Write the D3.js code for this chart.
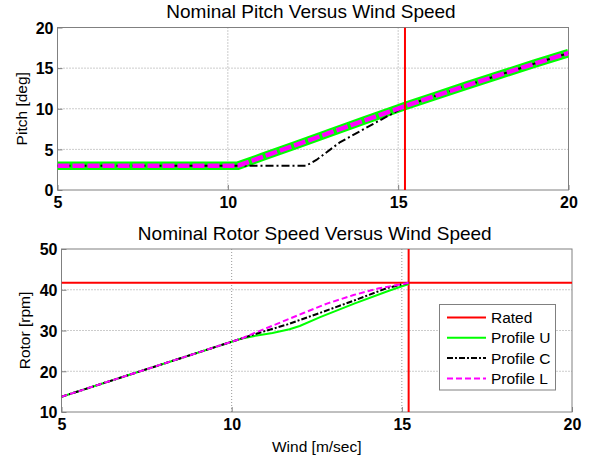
<!DOCTYPE html>
<html>
<head>
<meta charset="utf-8">
<script src="https://cdn.jsdelivr.net/npm/d3@7"></script>
<style>
  html, body { margin: 0; padding: 0; background: #fff; }
  svg { display: block; font-family: "Liberation Sans", Arial, sans-serif; }
</style>
</head>
<body>
<svg id="chart" width="592" height="460"></svg>
<script>
// Wind speed break points (m/s)
const pitchWind   = [5, 10.3, 11, 12, 13, 14, 15, 15.2, 16, 17, 18, 19, 20];
// Nominal pitch (deg), profiles U and L share the schedule
const pitchU      = [3, 3, 4.05, 5.55, 7.05, 8.55, 10.03, 10.33, 11.45, 12.85, 14.2, 15.55, 16.85];
const pitchL      = [3, 3, 4.05, 5.55, 7.05, 8.55, 10.03, 10.33, 11.45, 12.85, 14.2, 15.55, 16.85];
// Profile C holds minimum pitch longer
const pitchCWind  = [5, 12.3, 12.6, 13.3, 14.3, 15.0, 15.2, 16, 17, 18, 19, 20];
const pitchC      = [3, 3, 3.7, 5.9, 8.2, 9.8, 10.33, 11.45, 12.85, 14.2, 15.55, 16.85];

// Rotor speed (rpm) below rated
const rotorWindU  = [5, 10, 10.3, 10.64, 11.2, 11.7, 12.0, 12.6, 13.6, 14.6, 15.2];
const rotorU      = [13.75, 27.25, 28.05, 28.6, 29.4, 30.3, 31.1, 33.3, 36.6, 39.7, 41.4];
const rotorWindC  = [5, 10, 10.3, 10.64, 11.64, 12.62, 13.58, 14.56, 15.2];
const rotorC      = [13.75, 27.25, 28.05, 29.0, 31.5, 34.4, 37.3, 40.4, 41.7];
const rotorWindL  = [5, 10, 10.3, 10.64, 11, 11.5, 12.11, 12.8, 13.58, 14.3, 14.95, 15.2];
const rotorL      = [13.75, 27.25, 28.05, 29.3, 30.5, 32.2, 34.3, 36.6, 38.7, 40.3, 41.3, 41.7];

// Rated operating point
const ratedWind  = 15.2;
const ratedRotor = 41.7;

// Tick labels
const windTicks  = [5, 10, 15, 20];
const pitchTicks = [0, 5, 10, 15, 20];
const rotorTicks = [10, 20, 30, 40, 50];

const legendLabels = ["Rated", "Profile U", "Profile C", "Profile L"];

const RED = "#ff0000", GREEN = "#00ff00", BLACK = "#000000", MAGENTA = "#ff00ff";
const FRAME = "#808080", GRID = "#999999";

const svg = d3.select("#chart");

function zip(xs, ys) { return xs.map((x, i) => [x, ys[i]]); }

function panel(box, yDomain, yTicks, title, yLabel) {
  const x = d3.scaleLinear().domain([5, 20]).range([box.left, box.right]);
  const y = d3.scaleLinear().domain(yDomain).range([box.bottom, box.top]);
  const g = svg.append("g");

  // dotted grid
  g.append("g").selectAll("line").data(windTicks.slice(1, -1)).join("line")
    .attr("x1", d => x(d)).attr("x2", d => x(d))
    .attr("y1", box.top).attr("y2", box.bottom)
    .attr("stroke", GRID).attr("stroke-width", 1).attr("stroke-dasharray", "1,2");
  g.append("g").selectAll("line").data(yTicks.slice(1, -1)).join("line")
    .attr("x1", box.left).attr("x2", box.right)
    .attr("y1", d => y(d)).attr("y2", d => y(d))
    .attr("stroke", GRID).attr("stroke-width", 1).attr("stroke-dasharray", "1,2");

  // axes (inward ticks, bold labels)
  const xAxis = g.append("g").attr("transform", `translate(0,${box.bottom})`)
    .call(d3.axisBottom(x).tickValues(windTicks).tickSizeInner(-5).tickSizeOuter(0).tickPadding(7));
  const yAxis = g.append("g").attr("transform", `translate(${box.left},0)`)
    .call(d3.axisLeft(y).tickValues(yTicks).tickSizeInner(-5).tickSizeOuter(0).tickPadding(4));
  [xAxis, yAxis].forEach(a => {
    a.select(".domain").remove();
    a.selectAll(".tick line").attr("stroke", FRAME);
    a.selectAll(".tick text").attr("fill", "#000").attr("font-size", 16)
      .attr("font-weight", "bold").attr("font-family", "Liberation Sans, Arial, sans-serif");
  });
  xAxis.selectAll(".tick text").attr("dy", "0.71em");
  yAxis.selectAll(".tick text").attr("dy", "0.36em");

  // frame
  g.append("rect").attr("x", box.left).attr("y", box.top)
    .attr("width", box.right - box.left).attr("height", box.bottom - box.top)
    .attr("fill", "none").attr("stroke", FRAME).attr("stroke-width", 1);

  // titles
  g.append("text").attr("x", (box.left + box.right) / 2 - 2).attr("y", box.top - 9.5)
    .attr("text-anchor", "middle").attr("font-size", 19).attr("fill", "#000").text(title);
  g.append("text").attr("transform", `translate(${box.yLabelX},${(box.top + box.bottom) / 2}) rotate(-90)`)
    .attr("text-anchor", "middle").attr("font-size", 15.5).attr("fill", "#000").text(yLabel);

  const clip = "clip" + Math.round(box.top);
  svg.append("clipPath").attr("id", clip).append("rect")
    .attr("x", box.left).attr("y", box.top)
    .attr("width", box.right - box.left).attr("height", box.bottom - box.top);
  const plot = svg.append("g").attr("clip-path", `url(#${clip})`);
  const line = d3.line().x(d => x(d[0])).y(d => y(d[1]));
  return { x, y, plot, line, g };
}

// ---- Pitch panel ----
const pitchPanel = panel({ left: 57.5, right: 568.5, top: 27.5, bottom: 190, yLabelX: 27 },
  [0, 20], pitchTicks, "Nominal Pitch Versus Wind Speed", "Pitch [deg]");

pitchPanel.plot.append("path").datum(zip(pitchWind, pitchU)).attr("d", pitchPanel.line)
  .attr("fill", "none").attr("stroke", GREEN).attr("stroke-width", 8.5).attr("stroke-linejoin", "round");
pitchPanel.plot.append("path").datum(zip(pitchCWind, pitchC)).attr("d", pitchPanel.line)
  .attr("fill", "none").attr("stroke", BLACK).attr("stroke-width", 2).attr("stroke-dasharray", "8,3,2,3");
pitchPanel.plot.append("path").datum(zip(pitchWind, pitchL)).attr("d", pitchPanel.line)
  .attr("fill", "none").attr("stroke", MAGENTA).attr("stroke-width", 4.5).attr("stroke-dasharray", "12,3");
pitchPanel.plot.append("line")
  .attr("x1", pitchPanel.x(ratedWind)).attr("x2", pitchPanel.x(ratedWind))
  .attr("y1", pitchPanel.y(0)).attr("y2", pitchPanel.y(20))
  .attr("stroke", RED).attr("stroke-width", 2);

// ---- Rotor panel ----
const rotorPanel = panel({ left: 61.5, right: 572, top: 249, bottom: 412, yLabelX: 30 },
  [10, 50], rotorTicks, "Nominal Rotor Speed Versus Wind Speed", "Rotor [rpm]");

rotorPanel.g.append("text").attr("x", (61.5 + 572) / 2).attr("y", 452)
  .attr("text-anchor", "middle").attr("font-size", 15.5).attr("fill", "#000").text("Wind [m/sec]");

rotorPanel.plot.append("line")
  .attr("x1", rotorPanel.x(5)).attr("x2", rotorPanel.x(20))
  .attr("y1", rotorPanel.y(ratedRotor)).attr("y2", rotorPanel.y(ratedRotor))
  .attr("stroke", RED).attr("stroke-width", 2);
rotorPanel.plot.append("line")
  .attr("x1", rotorPanel.x(ratedWind)).attr("x2", rotorPanel.x(ratedWind))
  .attr("y1", rotorPanel.y(10)).attr("y2", rotorPanel.y(50))
  .attr("stroke", RED).attr("stroke-width", 2);

const rotorSeries = [
  { xs: rotorWindU, ys: rotorU, color: GREEN, dash: null, w: 2 },
  { xs: rotorWindC, ys: rotorC, color: BLACK, dash: "6,2,2,2", w: 2 },
  { xs: rotorWindL, ys: rotorL, color: MAGENTA, dash: "6,3", w: 2 }
];
rotorSeries.forEach(s => {
  rotorPanel.plot.append("path").datum(zip(s.xs, s.ys)).attr("d", rotorPanel.line)
    .attr("fill", "none").attr("stroke", s.color).attr("stroke-width", s.w)
    .attr("stroke-dasharray", s.dash);
});

// legend
const legStyles = [
  { color: RED, dash: null },
  { color: GREEN, dash: null },
  { color: BLACK, dash: "6,2,2,2" },
  { color: MAGENTA, dash: "6,3" }
];
const leg = svg.append("g");
leg.append("rect").attr("x", 439.5).attr("y", 304.5).attr("width", 116).attr("height", 85.5)
  .attr("fill", "#fff").attr("stroke", FRAME).attr("stroke-width", 1);
legendLabels.forEach((lab, i) => {
  const cy = 317.5 + i * 20.3;
  leg.append("line").attr("x1", 447).attr("x2", 486).attr("y1", cy).attr("y2", cy)
    .attr("stroke", legStyles[i].color).attr("stroke-width", 2)
    .attr("stroke-dasharray", legStyles[i].dash);
  leg.append("text").attr("x", 491).attr("y", cy).attr("dy", "0.36em")
    .attr("font-size", 15.5).attr("fill", "#000").text(lab);
});
</script>
</body>
</html>
